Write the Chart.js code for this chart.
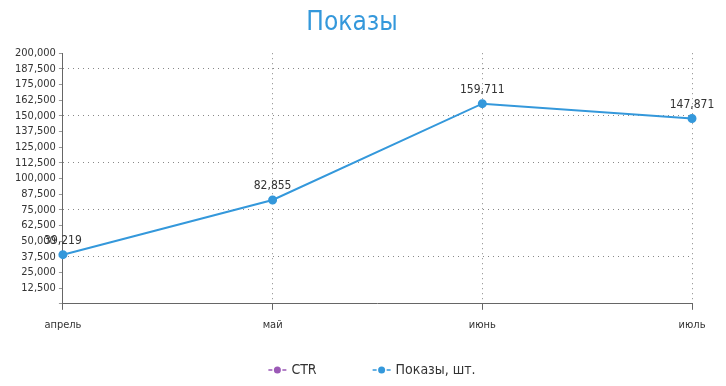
<!DOCTYPE html>
<html>
<head>
<meta charset="utf-8">
<script src="https://cdn.jsdelivr.net/npm/chart.js@4"></script>
<style>
  html, body { margin: 0; padding: 0; background: #fff; }
  #wrap { width: 726px; height: 386px; }
</style>
</head>
<body>
<div id="wrap"><canvas id="line-chart"></canvas></div>
<script>
const months = ['апрель', 'май', 'июнь', 'июль'];
const shows = [39219, 82855, 159711, 147871];
const ctrValues = [null, null, null, null];

const fontFamily = '"Liberation Sans Narrow", "DejaVu Sans Condensed", sans-serif';
const blue = 'rgb(52, 152, 219)';
const purple = 'rgb(155, 89, 182)';

// value above each point
const valueLabels = {
  id: 'valueLabels',
  afterDatasetsDraw(chart) {
    const ctx = chart.ctx;
    const meta = chart.getDatasetMeta(1);
    ctx.save();
    ctx.font = '12px ' + fontFamily;
    ctx.fillStyle = '#333';
    ctx.textAlign = 'center';
    ctx.textBaseline = 'bottom';
    meta.data.forEach(function (pt, i) {
      ctx.fillText(shows[i].toLocaleString('en-US'), pt.x, pt.y - 8);
    });
    ctx.restore();
  },
};

// legend with "-•-" markers and wide gap between items
const bottomLegend = {
  id: 'bottomLegend',
  afterDraw(chart) {
    const ctx = chart.ctx;
    const items = chart.data.datasets;
    const gap = 56;
    const markW = 18;
    ctx.save();
    ctx.font = '14px ' + fontFamily;
    let widths = items.map(function (ds) { return markW + 5 + ctx.measureText(ds.label).width; });
    let total = widths.reduce(function (a, b) { return a + b; }, 0) + gap * (items.length - 1);
    let x = chart.width / 2 - total / 2 + 9;
    let y = 370;
    items.forEach(function (ds, i) {
      ctx.strokeStyle = ds.borderColor;
      ctx.fillStyle = ds.borderColor;
      ctx.lineWidth = 1.5;
      ctx.beginPath();
      ctx.moveTo(x, y); ctx.lineTo(x + 4, y);
      ctx.moveTo(x + markW - 4, y); ctx.lineTo(x + markW, y);
      ctx.stroke();
      ctx.beginPath();
      ctx.arc(x + markW / 2, y, 3.5, 0, Math.PI * 2);
      ctx.fill();
      ctx.fillStyle = '#333';
      ctx.textAlign = 'left';
      ctx.textBaseline = 'middle';
      ctx.fillText(ds.label, x + markW + 5, y);
      x += widths[i] + gap;
    });
    ctx.restore();
  },
};

const lineData = {
  labels: months,
  datasets: [
    {
      label: 'CTR',
      data: ctrValues,
      borderColor: purple,
      backgroundColor: purple,
    },
    {
      label: 'Показы, шт.',
      data: shows,
      borderColor: blue,
      backgroundColor: blue,
      borderWidth: 2,
      pointRadius: 3.5,
      tension: 0,
    },
  ],
};

const lineConfig = {
  type: 'line',
  data: lineData,
  plugins: [valueLabels, bottomLegend],
  options: {
    responsive: true,
    maintainAspectRatio: false,
    animation: false,
    layout: { padding: { left: 12, right: 34, top: 0, bottom: 45 } },
    plugins: {
      title: {
        display: true,
        text: 'Показы',
        color: blue,
        font: { family: fontFamily, size: 26, weight: 'normal' },
        padding: { top: 8, bottom: 14 },
      },
      legend: { display: false },
      tooltip: { enabled: false },
    },
    scales: {
      x: {
        offset: false,
        grid: {
          color: function (c) { return c.index === 0 ? 'rgba(0,0,0,0)' : '#888'; },
          tickColor: '#666',
          tickLength: 6,
        },
        border: { color: '#666', width: 1, dash: [1, 4] },
        ticks: {
          color: '#333',
          font: { family: fontFamily, size: 11 },
          padding: 9,
        },
      },
      y: {
        min: 0,
        max: 200000,
        grid: {
          color: function (c) { return (c.index % 3 === 0 && c.index > 0) ? '#888' : 'rgba(0,0,0,0)'; },
          tickColor: '#999',
          tickLength: 4,
          tickBorderDash: [],
        },
        border: { color: '#666', width: 1, dash: [1, 4] },
        ticks: {
          stepSize: 12500,
          autoSkip: false,
          color: '#333',
          font: { family: fontFamily, size: 11 },
          padding: 3,
          callback: function (v) { return v === 0 ? '' : v.toLocaleString('en-US'); },
        },
      },
    },
  },
};

const myLineChart = new Chart(document.getElementById('line-chart'), lineConfig);
</script>
</body>
</html>
